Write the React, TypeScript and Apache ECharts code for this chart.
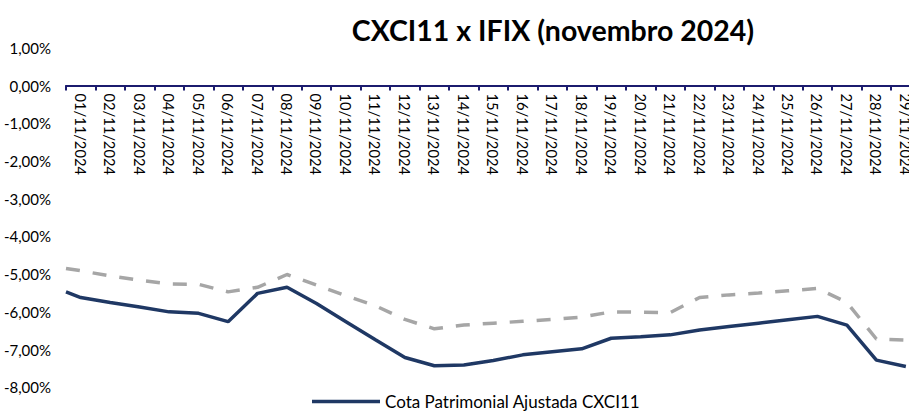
import React, { useEffect, useRef } from "react";
import * as echarts from "echarts";

const titleText = "CXCI11 x IFIX (novembro 2024)";
const categories = [
  "01/11/2024", "02/11/2024", "03/11/2024", "04/11/2024", "05/11/2024", "06/11/2024",
  "07/11/2024", "08/11/2024", "09/11/2024", "10/11/2024", "11/11/2024", "12/11/2024",
  "13/11/2024", "14/11/2024", "15/11/2024", "16/11/2024", "17/11/2024", "18/11/2024",
  "19/11/2024", "20/11/2024", "21/11/2024", "22/11/2024", "23/11/2024", "24/11/2024",
  "25/11/2024", "26/11/2024", "27/11/2024", "28/11/2024", "29/11/2024",
];
const cxciName = "Cota Patrimonial Ajustada CXCI11";
const ifixName = "IFIX";
// value at the left edge of the plot (previous close)
const cxciStart = -5.47;
const ifixStart = -4.85;
const cxciValues = [
  -5.62, -5.75, -5.87, -6.0, -6.04, -6.26, -5.51, -5.35, -5.78, -6.26, -6.74, -7.21,
  -7.43, -7.41, -7.29, -7.14, -7.06, -6.98, -6.7, -6.66, -6.61, -6.48, -6.39, -6.3,
  -6.21, -6.12, -6.35, -7.28, -7.45,
];
const ifixValues = [
  -4.91, -5.05, -5.16, -5.26, -5.27, -5.47, -5.35, -5.01, -5.29, -5.57, -5.84, -6.2,
  -6.45, -6.35, -6.3, -6.25, -6.2, -6.14, -6.0, -6.01, -6.02, -5.62, -5.55, -5.5,
  -5.44, -5.38, -5.75, -6.72, -6.75,
];
const yMin = -8;
const yMax = 1;

const font = "Lato";
const W = 909;
const H = 412;
const gridTop = 47.8;
const gridBottom = 24.7;

function toSeries(start: number, values: number[]) {
  return [[0, start], ...values.map((v, i) => [i + 0.5, v])];
}

export default function App() {
  const ref = useRef<HTMLDivElement>(null);
  useEffect(() => {
    if (!ref.current) return;
    const chart = echarts.init(ref.current, null, { renderer: "svg" });
    const plotH = H - gridTop - gridBottom;
    const zeroOffset = -((yMax - 0) / (yMax - yMin)) * plotH;
    chart.setOption({
      animation: false,
      backgroundColor: "#fff",
      textStyle: { fontFamily: font },
      graphic: [
        {
          type: "text",
          x: 553,
          y: 30,
          style: {
            text: titleText,
            fontFamily: font,
            fontWeight: "bold",
            fontSize: 28.5,
            fill: "#000",
            textAlign: "center",
            textVerticalAlign: "middle",
          },
        },
      ],
      legend: {
        data: [cxciName],
        left: 312,
        top: 393,
        padding: 0,
        icon: "rect",
        itemWidth: 68,
        itemHeight: 3.5,
        itemGap: 10,
        textStyle: { fontFamily: font, fontSize: 17, color: "#000" },
      },
      grid: {
        left: 66,
        right: -11.6,
        top: gridTop,
        bottom: gridBottom,
        containLabel: false,
        outerBoundsMode: "none",
      },
      xAxis: [
        {
          type: "category",
          data: categories,
          boundaryGap: true,
          position: "top",
          offset: zeroOffset,
          axisLine: { onZero: false, lineStyle: { color: "#1B1B6E", width: 2 } },
          axisTick: {
            show: true,
            inside: true,
            length: 5,
            lineStyle: { color: "#1B1B6E", width: 2 },
          },
          axisLabel: {
            interval: 0,
            rotate: 90,
            inside: true,
            margin: 8,
            fontFamily: font,
            fontSize: 14.7,
            color: "#000",
          },
          splitLine: { show: false },
        },
        {
          type: "value",
          min: 0,
          max: categories.length,
          show: false,
        },
      ],
      yAxis: {
        type: "value",
        min: yMin,
        max: yMax,
        interval: 1,
        axisLine: { show: false },
        axisTick: { show: false },
        splitLine: { show: false },
        axisLabel: {
          margin: 15,
          fontFamily: font,
          fontSize: 15,
          color: "#000",
          formatter: (v: number) => v.toFixed(2).replace(".", ",") + "%",
        },
      },
      series: [
        {
          name: ifixName,
          type: "line",
          xAxisIndex: 1,
          data: toSeries(ifixStart, ifixValues),
          showSymbol: false,
          symbol: "none",
          lineStyle: { color: "#A6A6A6", width: 3.5, type: [14, 13] },
          itemStyle: { color: "#A6A6A6" },
        },
        {
          name: cxciName,
          type: "line",
          xAxisIndex: 1,
          data: toSeries(cxciStart, cxciValues),
          showSymbol: false,
          symbol: "none",
          lineStyle: { color: "#1F3864", width: 3.5 },
          itemStyle: { color: "#1F3864" },
        },
      ],
    });
    return () => chart.dispose();
  }, []);
  return (
    <div
      ref={ref}
      style={{ position: "absolute", left: 0, top: 0, width: W, height: H }}
    />
  );
}
